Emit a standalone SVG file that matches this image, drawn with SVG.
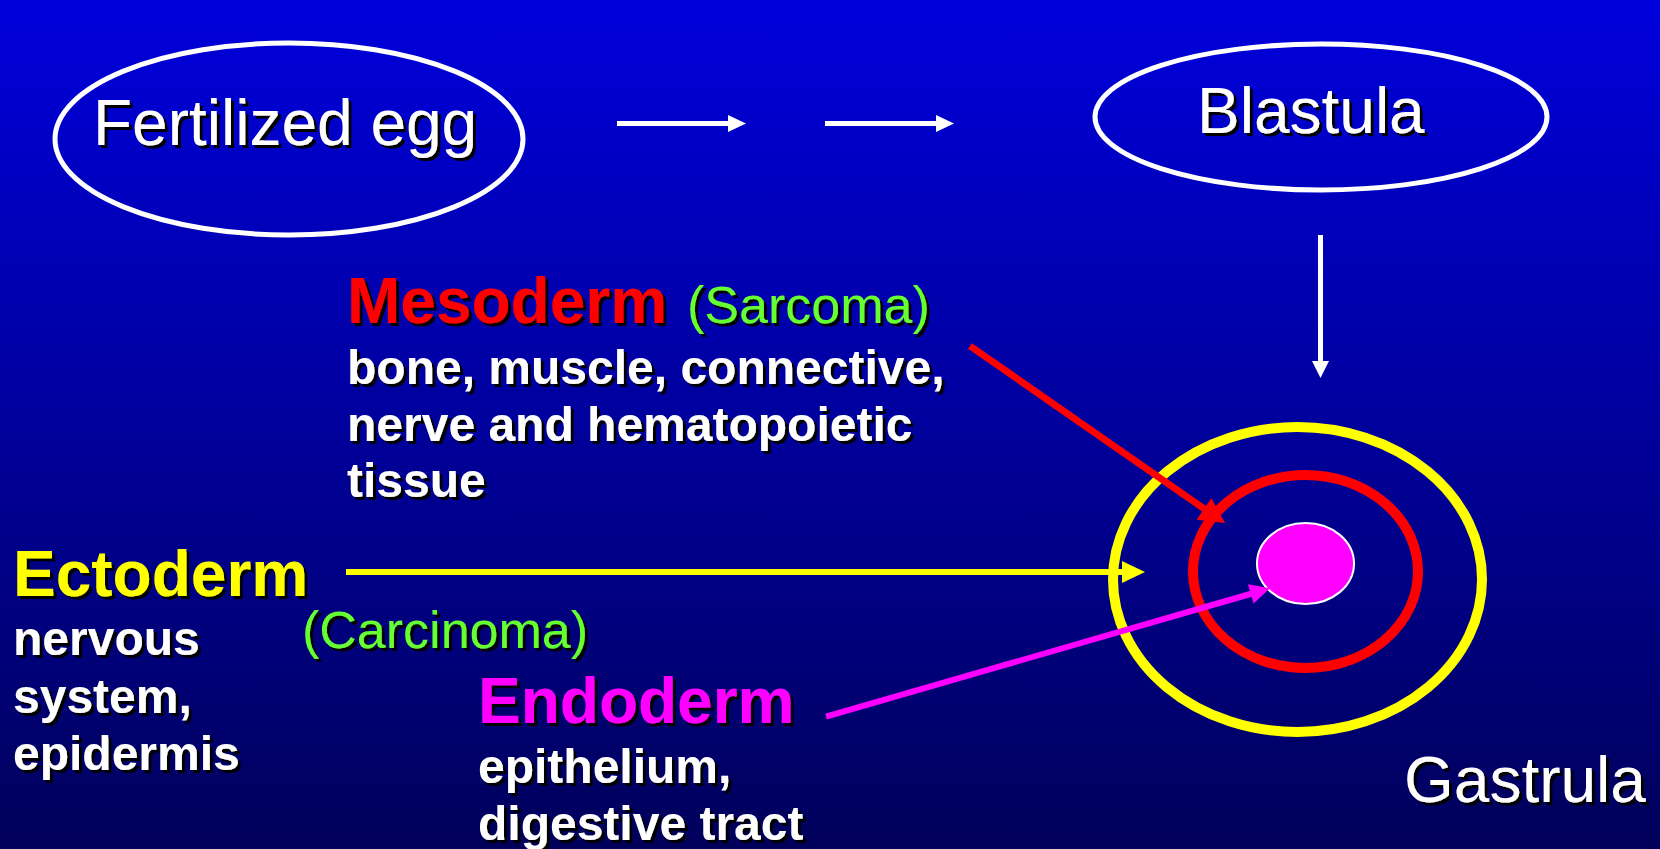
<svg xmlns="http://www.w3.org/2000/svg" width="1660" height="849" viewBox="0 0 1660 849">
<defs>
<linearGradient id="bg" x1="0" y1="0" x2="0" y2="1">
<stop offset="0" stop-color="#0000DC"/>
<stop offset="0.5" stop-color="#00009C"/>
<stop offset="1" stop-color="#00005A"/>
</linearGradient>
<filter id="sh" x="-5%" y="-20%" width="110%" height="140%">
<feOffset in="SourceAlpha" dx="2.5" dy="2.5" result="o"/>
<feMerge><feMergeNode in="o"/><feMergeNode in="SourceGraphic"/></feMerge>
</filter>
</defs>
<style>
text{font-family:"Liberation Sans",Arial,sans-serif;filter:url(#sh)}
.big{font-size:64px;fill:#fff}
.bold{font-weight:bold}
.green{font-size:52px;fill:#66FF33}
.body{font-size:48px;font-weight:bold;fill:#fff}
.wl{stroke:#fff;stroke-width:5;fill:none}
.wh{fill:#fff}
</style>
<rect x="0" y="0" width="1660" height="849" fill="url(#bg)"/>

<g id="fertilized-egg">
<ellipse cx="289" cy="139" rx="234" ry="96" fill="none" stroke="#fff" stroke-width="5"/>
<text class="big" x="93" y="145">Fertilized egg</text>
</g>

<g id="blastula">
<ellipse cx="1321" cy="117" rx="226" ry="73" fill="none" stroke="#fff" stroke-width="5"/>
<text class="big" x="1197" y="133">Blastula</text>
</g>

<g id="gastrula">
<ellipse cx="1297.5" cy="579.5" rx="184.5" ry="152.5" fill="none" stroke="#FFFF00" stroke-width="10"/>
<ellipse cx="1305.5" cy="571.5" rx="112.5" ry="96.5" fill="none" stroke="#FF0000" stroke-width="10"/>
<ellipse cx="1305.5" cy="563.5" rx="48.5" ry="40.5" fill="#FF00FF" stroke="#fff" stroke-width="2"/>
<text class="big" x="1404" y="802">Gastrula</text>
</g>

<g id="mesoderm">
<text class="big bold" x="347" y="323" style="fill:#FF0000">Mesoderm</text>
<text class="green" x="687" y="323">(Sarcoma)</text>
<text class="body" x="347" y="384">bone, muscle, connective,</text>
<text class="body" x="347" y="440.5">nerve and hematopoietic</text>
<text class="body" x="347" y="497">tissue</text>
</g>

<g id="ectoderm">
<text class="big bold" x="13" y="596" style="fill:#FFFF00">Ectoderm</text>
<text class="green" x="302" y="648">(Carcinoma)</text>
<text class="body" x="13" y="655">nervous</text>
<text class="body" x="13" y="712.5">system,</text>
<text class="body" x="13" y="770">epidermis</text>
</g>

<g id="endoderm">
<text class="big bold" x="478" y="723" style="fill:#FF00FF">Endoderm</text>
<text class="body" x="478" y="783">epithelium,</text>
<text class="body" x="478" y="840">digestive tract</text>
</g>

<g id="connectors">
<line class="wl" x1="617" y1="123.5" x2="730" y2="123.5"/>
<polygon class="wh" points="728,115 746,123.5 728,132"/>
<line class="wl" x1="825" y1="123.5" x2="938" y2="123.5"/>
<polygon class="wh" points="936,115 954,123.5 936,132"/>
<line class="wl" x1="1320.5" y1="235" x2="1320.5" y2="363"/>
<polygon class="wh" points="1312,361 1320.5,378 1329,361"/>
<line x1="346" y1="572" x2="1124" y2="572" stroke="#FFFF00" stroke-width="6"/>
<polygon fill="#FFFF00" points="1122,561 1145,572 1122,583"/>
<line x1="970" y1="346" x2="1206" y2="510" stroke="#FF0000" stroke-width="7"/>
<polygon fill="#FF0000" points="1196.6,519.7 1225,523 1211.4,498.3"/>
<line x1="826" y1="716.7" x2="1252" y2="593.5" stroke="#FF00FF" stroke-width="6"/>
<polygon fill="#FF00FF" points="1253.6,603.5 1270,588.3 1248,584.3"/>
</g>
</svg>
